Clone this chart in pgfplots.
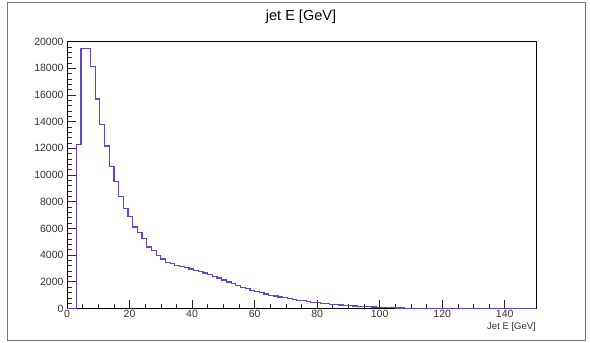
\documentclass[border=0pt]{standalone}
\usepackage{fontspec}
\setmainfont{Liberation Sans}
\usepackage{pgfplots}
\pgfplotsset{compat=1.18}
\usepackage{pgfplotstable}
\definecolor{histc}{RGB}{98,68,205}
\pgfplotstableread{
x y
0 0
1.5 0
3 12300
4.5 19450
6 19450
7.5 18100
9 15700
10.5 13800
12 12170
13.5 10660
15 9520
16.5 8390
18 7500
19.5 6870
21 6110
22.5 5680
24 5230
25.5 4600
27 4340
28.5 3960
30 3710
31.5 3460
33 3350
34.5 3250
36 3160
37.5 3060
39 2960
40.5 2850
42 2760
43.5 2660
45 2540
46.5 2420
48 2280
49.5 2130
51 1980
52.5 1850
54 1720
55.5 1600
57 1470
58.5 1360
60 1260
61.5 1170
63 1080
64.5 1000
66 930
67.5 860
69 800
70.5 740
72 680
73.5 625
75 570
76.5 520
78 475
79.5 430
81 390
82.5 355
84 320
85.5 290
87 260
88.5 235
90 210
91.5 190
93 170
94.5 150
96 130
97.5 112
99 96
100.5 80
102 66
103.5 54
105 44
106.5 35
108 28
109.5 22
111 17
112.5 13
114 10
115.5 8
117 6
118.5 4
120 3
121.5 2
123 2
124.5 1
126 1
127.5 0
129 0
130.5 0
132 0
133.5 0
135 0
136.5 0
138 0
139.5 0
141 0
142.5 0
144 0
145.5 0
147 0
148.5 0
150 0
}\histdata
\begin{document}
\begin{tikzpicture}[x=1pt,y=1pt]
\useasboundingbox (0,0) rectangle (590,343);
\draw[black!55, line width=1.2pt] (7.5,2.5) rectangle (585.5,340.5);
\node[font=\fontsize{14.5}{17}\selectfont] at (301,326) {jet E [GeV]};
\begin{axis}[
  at={(67pt,34.5pt)}, anchor=south west,
  scale only axis, width=469pt, height=267pt,
  xmin=0, xmax=150, ymin=0, ymax=20000,
  xtick={0,20,...,140}, minor x tick num=3,
  ytick={0,2000,...,20000}, minor y tick num=4,
  tick align=inside, xtick pos=bottom, ytick pos=left,
  major tick length=8.5pt, minor tick length=4.5pt,
  every tick/.style={black!85, line width=0.6pt},
  axis line style={black, line width=0.8pt},
  scaled y ticks=false,
  /pgf/number format/1000 sep={},
  /pgf/number format/assume math mode=true,
  tick label style={font=\fontsize{10.5}{12}\selectfont, text=black!80},
  xticklabel style={yshift=1.5pt},
  clip=false,
]
\addplot[const plot, histc, line width=1.2pt] table[x=x,y=y]{\histdata};
\end{axis}
\node[anchor=north east, inner sep=0pt, font=\fontsize{9.5}{11}\selectfont, text=black!80] at (536,20.5) {Jet E [GeV]};
\end{tikzpicture}
\end{document}
